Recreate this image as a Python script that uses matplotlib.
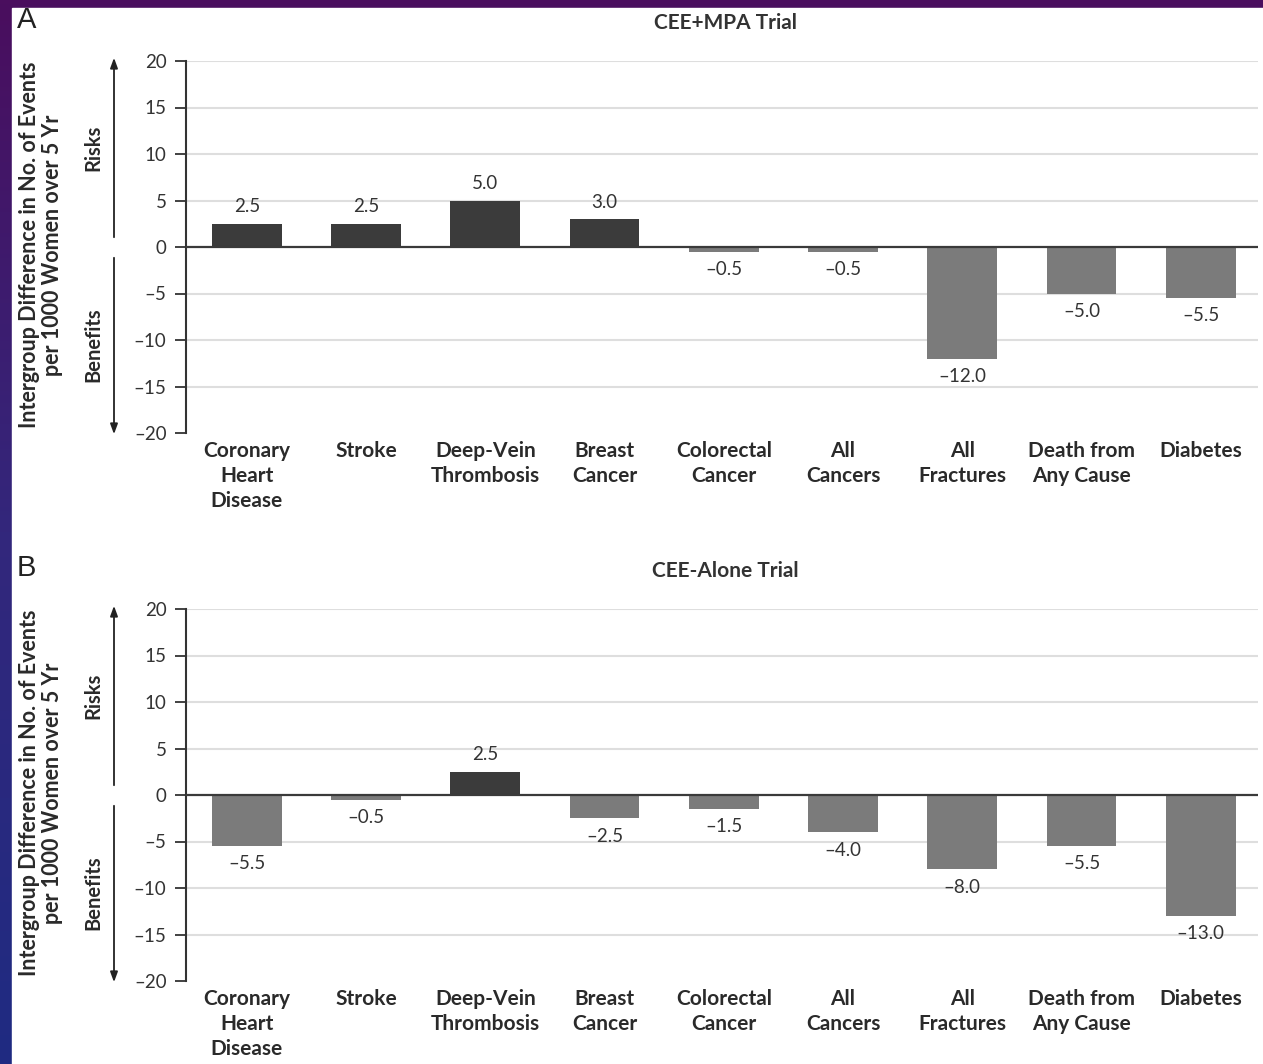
# -*- coding: utf-8 -*-
# WHI trials: intergroup difference in events per 1000 women over 5 years

import numpy as np
import matplotlib
matplotlib.use('Agg')
import matplotlib.pyplot as plt
from matplotlib.colors import LinearSegmentedColormap
from matplotlib.patches import Rectangle

plt.rcParams['font.family'] = ['Lato', 'DejaVu Sans']

# Categories
categorias = ['Coronary\nHeart\nDisease', 'Stroke', 'Deep-Vein\nThrombosis',
              'Breast\nCancer', 'Colorectal\nCancer', 'All\nCancers',
              'All\nFractures', 'Death from\nAny Cause', 'Diabetes']

# Values panel A (CEE+MPA) and panel B (CEE alone)
valores_a = [2.5, 2.5, 5.0, 3.0, -0.5, -0.5, -12.0, -5.0, -5.5]
valores_b = [-5.5, -0.5, 2.5, -2.5, -1.5, -4.0, -8.0, -5.5, -13.0]

titulos = ['CEE+MPA Trial', 'CEE-Alone Trial']
letras = ['A', 'B']
yticks = [20, 15, 10, 5, 0, -5, -10, -15, -20]
ylabel = 'Intergroup Difference in No. of Events\nper 1000 Women over 5 Yr'

W, H = 1263, 1064
fig = plt.figure(figsize=(W / 100, H / 100), dpi=100)


def fx(x):
    return x / W


def fy(y):
    return 1 - y / H


# Slide background (purple-blue gradient) with white panel on top
bg = fig.add_axes([0, 0, 1, 1], zorder=-10)
cmap = LinearSegmentedColormap.from_list('slide', ['#4a0e5e', '#33277c', '#1f2b82'])
bg.imshow(np.linspace(0, 1, 256).reshape(-1, 1), aspect='auto', cmap=cmap,
          extent=[0, 1, 0, 1], origin='upper')
bg.add_patch(Rectangle((fx(12), 0), 1, fy(8), color='white', transform=bg.transAxes))
bg.set_axis_off()

x = np.arange(len(categorias))
largura = 0.585

for i, vals in enumerate([valores_a, valores_b]):
    off = i * 548
    top, bottom = 61 + off, 433 + off
    ax = fig.add_axes([fx(186), fy(bottom), fx(1258) - fx(186), fy(top) - fy(bottom)])
    cores = ['#3b3b3b' if v > 0 else '#7b7b7b' for v in vals]
    ax.bar(x, vals, width=largura, color=cores, zorder=3)
    for xi, v in zip(x, vals):
        if v > 0:
            ax.text(xi, v + 0.9, f'{v:.1f}', ha='center', va='bottom', fontsize=13.5, color='#333333')
        else:
            ax.text(xi, v - 1.0, f'{v:.1f}'.replace('-', '\u2013'), ha='center', va='top',
                    fontsize=13.5, color='#333333')
    ax.set_ylim(-20, 20)
    ax.set_xlim(-0.51, 8.48)
    ax.set_yticks(yticks)
    ax.set_yticklabels([str(t).replace('-', '\u2013') for t in yticks], fontsize=13.5, color='#333333')
    for t in yticks:
        if t not in (0, -20):
            ax.axhline(t, color='#dedede', lw=1.5, zorder=1)
    ax.axhline(0, color='#3a3a3a', lw=1.6, zorder=4)
    for s in ['top', 'right', 'bottom']:
        ax.spines[s].set_visible(False)
    ax.spines['left'].set_color('#333333')
    ax.spines['left'].set_linewidth(1.5)
    ax.tick_params(axis='y', direction='out', length=8, width=1.3, color='#333333', pad=6)
    ax.set_xticks([])
    ax.patch.set_alpha(0)

    # category labels
    for xi, c in zip(x, categorias):
        xd = ax.transData.transform((xi, 0))[0] / W
        fig.text(xd, fy(441 + off), c, ha='center', va='top', fontsize=15,
                 fontweight='bold', color='#2a2a2a', linespacing=1.32)

    fig.text(fx(725), fy(23 + off), titulos[i], ha='center', va='center',
             fontsize=15, fontweight='bold', color='#333333')
    fig.text(fx(17), fy(20 + off), letras[i], ha='left', va='center', fontsize=21,
             family=['Liberation Sans', 'DejaVu Sans'], color='#222222')
    fig.text(fx(41), fy(245 + off), ylabel, rotation=90, ha='center', va='center',
             fontsize=15.5, fontweight='bold', color='#2a2a2a', linespacing=1.1)
    fig.text(fx(93), fy(148 + off), 'Risks', rotation=90, ha='center', va='center',
             fontsize=14.5, fontweight='bold', color='#2a2a2a')
    fig.text(fx(93), fy(345 + off), 'Benefits', rotation=90, ha='center', va='center',
             fontsize=14.5, fontweight='bold', color='#2a2a2a')
    seta = dict(arrowstyle='-|>,head_length=0.6,head_width=0.22', color='#222222', lw=1.3)
    bg.annotate('', xy=(fx(114), fy(55 + off)), xytext=(fx(114), fy(240 + off)),
                xycoords='figure fraction', textcoords='figure fraction', arrowprops=seta)
    bg.annotate('', xy=(fx(114), fy(437 + off)), xytext=(fx(114), fy(255 + off)),
                xycoords='figure fraction', textcoords='figure fraction', arrowprops=seta)

fig.savefig('out.png', dpi=100)
